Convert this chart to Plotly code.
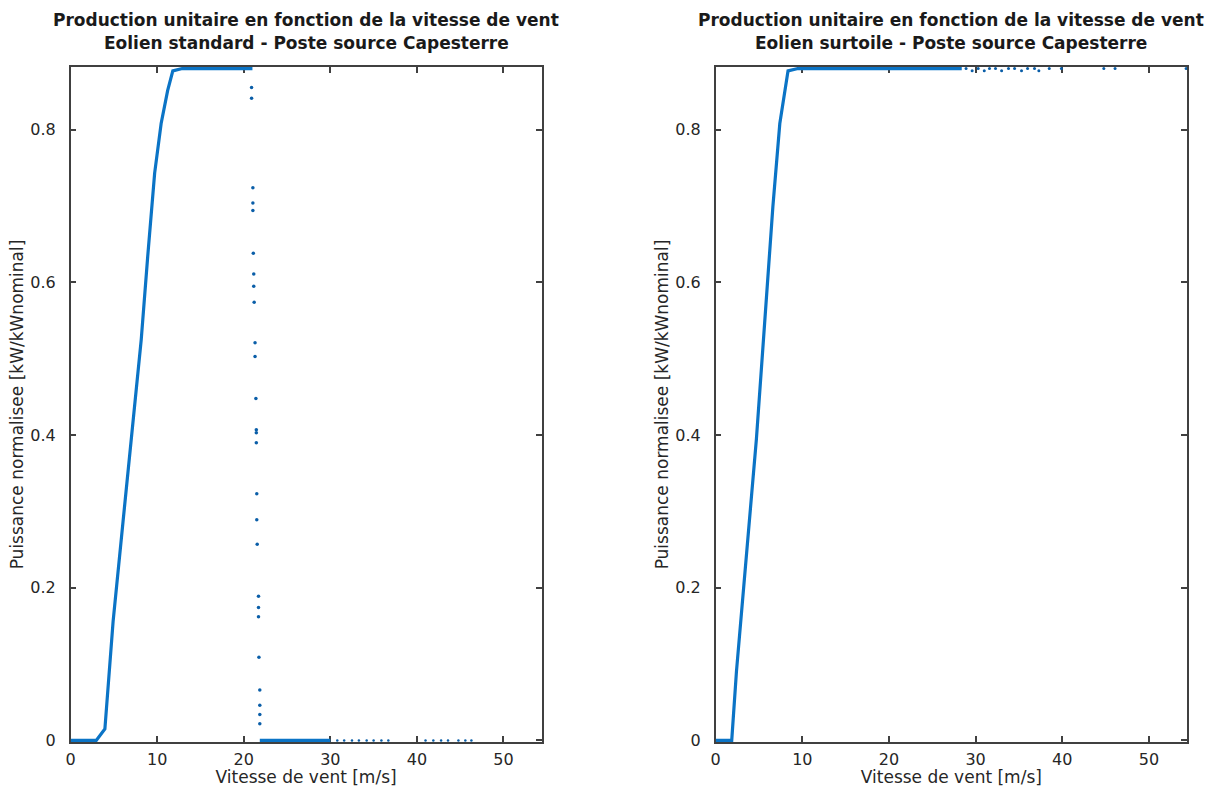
import plotly.graph_objects as go

# Wind speed [m/s] and normalised power [kW/kWnominal]
# --- standard turbine ---
std_speed = [0, 2.95, 3.95, 4.9, 6.05, 7.2, 8.15, 8.9, 9.7, 10.45, 11.2, 11.8, 12.9, 21.0]
std_power = [0, 0, 0.015, 0.156, 0.287, 0.417, 0.525, 0.634, 0.743, 0.808, 0.851, 0.877, 0.88, 0.88]

# storm cut-out: hours around 21-22 m/s and the shutdown plateau
std_cutout_speed = [20.9, 20.9, 21.05, 21.05, 21.05, 21.1, 21.15, 21.15, 21.2, 21.3, 21.3, 21.4,
                    21.45, 21.45, 21.45, 21.5, 21.5, 21.55, 21.7, 21.7, 21.7, 21.75, 21.85, 21.85,
                    21.85, 21.85]
std_cutout_power = [0.855, 0.841, 0.724, 0.704, 0.694, 0.638, 0.611, 0.595, 0.574, 0.521, 0.503, 0.448,
                    0.407, 0.403, 0.390, 0.323, 0.289, 0.257, 0.189, 0.174, 0.162, 0.109, 0.066, 0.046,
                    0.034, 0.022]
std_stop_speed = [21.85, 30.0]
std_stop_power = [0, 0]
std_high_speed = [30.8, 31.6, 32.5, 33.3, 34.2, 35.0, 35.9, 36.7, 41.0, 41.9, 42.8, 43.6, 44.8, 45.6, 46.3]
std_high_power = [0] * len(std_high_speed)

# --- "surtoile" turbine ---
sur_speed = [0, 1.85, 2.4, 3.55, 4.7, 5.65, 6.6, 7.4, 7.95, 8.35, 9.5, 28.4]
sur_power = [0, 0, 0.091, 0.243, 0.395, 0.547, 0.699, 0.808, 0.851, 0.877, 0.88, 0.88]
sur_high_speed = [28.9, 29.6, 30.3, 31.0, 31.6, 32.3, 33.0, 33.8, 34.5, 35.3, 36.0, 36.8, 37.3,
                  38.5, 39.9, 44.8, 46.1, 54.3]
sur_high_power = [0.88, 0.877, 0.88, 0.877, 0.88, 0.88, 0.877, 0.88, 0.88, 0.877, 0.88, 0.88, 0.877,
                  0.88, 0.88, 0.88, 0.88, 0.88]

x_ticks = [0, 10, 20, 30, 40, 50]
y_ticks = [0, 0.2, 0.4, 0.6, 0.8]
y_tick_text = ["0", "0.2", "0.4", "0.6", "0.8"]

titles = [
    ("Production unitaire en fonction de la vitesse de vent", "Eolien standard - Poste source Capesterre"),
    ("Production unitaire en fonction de la vitesse de vent", "Eolien surtoile - Poste source Capesterre"),
]
x_label = "Vitesse de vent [m/s]"
y_label = "Puissance normalisee [kW/kWnominal]"

BLUE = "#0b74c6"
DOT = "#0a5ea8"
FRAME = "#404040"
TEXT = "#262626"
FONT = "DejaVu Sans"

fig = go.Figure()

def add_curve(x, y, xa, ya):
    fig.add_trace(go.Scatter(x=x, y=y, mode="lines", xaxis=xa, yaxis=ya,
                             line=dict(color=BLUE, width=3.2), showlegend=False, hoverinfo="skip"))

def add_dots(x, y, xa, ya, size=3.5):
    fig.add_trace(go.Scatter(x=x, y=y, mode="markers", xaxis=xa, yaxis=ya,
                             marker=dict(color=DOT, size=size), showlegend=False, hoverinfo="skip"))

add_curve(std_speed, std_power, "x", "y")
add_curve(std_stop_speed, std_stop_power, "x", "y")
add_dots(std_cutout_speed, std_cutout_power, "x", "y")
add_dots(std_high_speed, std_high_power, "x", "y", size=2.5)

add_curve(sur_speed, sur_power, "x2", "y2")
add_dots(sur_high_speed, sur_high_power, "x2", "y2", size=3)

W, H = 1211, 787
left_dom = [70.7 / W, 541.5 / W]
right_dom = [715.7 / W, 1187 / W]
y_dom = [1 - 742 / H, 1 - 67 / H]

axis_common = dict(
    showline=True, linecolor=FRAME, linewidth=1.5, mirror="ticks",
    ticks="inside", ticklen=6, tickwidth=1.5, tickcolor=FRAME,
    showgrid=False, zeroline=False, layer="below traces", automargin=False,
    tickfont=dict(family=FONT, size=16, color=TEXT),
)

def xaxis(dom, anchor):
    return dict(axis_common, domain=dom, anchor=anchor, range=[0, 54.4],
                tickvals=x_ticks, ticktext=[str(v) for v in x_ticks], ticklabelstandoff=2,
                title=dict(text=x_label, standoff=6,
                           font=dict(family=FONT, size=17, color=TEXT)))

def yaxis(anchor):
    return dict(axis_common, domain=y_dom, anchor=anchor, range=[-0.002, 0.882],
                tickvals=y_ticks, ticktext=y_tick_text, ticklabelstandoff=10,
                title=dict(text=y_label, standoff=2,
                           font=dict(family=FONT, size=17, color=TEXT)))

fig.update_layout(
    width=W, height=H,
    margin=dict(l=0, r=0, t=0, b=0),
    paper_bgcolor="white", plot_bgcolor="white",
    xaxis=xaxis(left_dom, "y"),
    yaxis=yaxis("x"),
    xaxis2=xaxis(right_dom, "y2"),
    yaxis2=yaxis("x2"),
    showlegend=False,
)

for dom, (t1, t2) in zip([left_dom, right_dom], titles):
    cx = (dom[0] + dom[1]) / 2
    for text, ypix in [(t1, 20), (t2, 43)]:
        fig.add_annotation(x=cx, y=1 - ypix / H, xref="paper", yref="paper",
                           text="<b>" + text + "</b>", showarrow=False,
                           xanchor="center", yanchor="middle",
                           font=dict(family=FONT, size=17, color="#1a1a1a"))

fig.write_html("out.html")
